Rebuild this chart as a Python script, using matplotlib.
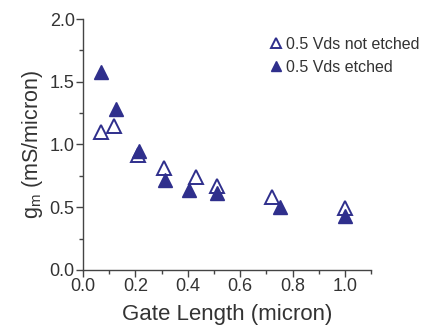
import matplotlib.pyplot as plt
from matplotlib.ticker import MultipleLocator

# gate length (micron) and transconductance (mS/micron)
gl_not_etched = [0.07, 0.12, 0.21, 0.31, 0.43, 0.51, 0.72, 1.0]
gm_not_etched = [1.10, 1.15, 0.92, 0.81, 0.74, 0.67, 0.58, 0.49]
gl_etched = [0.07, 0.125, 0.215, 0.315, 0.405, 0.51, 0.752, 1.0]
gm_etched = [1.58, 1.28, 0.95, 0.72, 0.64, 0.61, 0.50, 0.43]

plt.rcParams['font.family'] = ['Liberation Sans', 'DejaVu Sans']
navy = '#2f2f8c'
txt = '#333333'

fig = plt.figure(figsize=(4.3, 3.28), dpi=100)
ax = fig.add_axes([0.193, 0.177, 0.670, 0.765])

ax.plot(gl_not_etched, gm_not_etched, '^', ms=9.5, mfc='white', mec=navy, mew=1.4,
        linestyle='none', label='0.5 Vds not etched')
ax.plot(gl_etched, gm_etched, '^', ms=9.5, mfc=navy, mec=navy,
        linestyle='none', label='0.5 Vds etched')

ax.set_xlim(0, 1.1)
ax.set_ylim(0, 2.0)
ax.xaxis.set_major_locator(MultipleLocator(0.2))
ax.xaxis.set_minor_locator(MultipleLocator(0.1))
ax.yaxis.set_major_locator(MultipleLocator(0.5))
ax.yaxis.set_minor_locator(MultipleLocator(0.25))

for s in ['top', 'right']:
    ax.spines[s].set_visible(False)
for s in ['left', 'bottom']:
    ax.spines[s].set_color('#444444')
    ax.spines[s].set_linewidth(1.0)

ax.tick_params(which='major', direction='out', length=5, width=1, colors='#444444',
               labelsize=13, labelcolor=txt, pad=1)
ax.tick_params(which='minor', direction='out', length=3, width=1, colors='#444444')

ax.set_xlabel('Gate Length (micron)', fontsize=16, color=txt, labelpad=6)
ax.set_ylabel('g$_\\mathregular{m}$ (mS/micron)', fontsize=15.5, color=txt, labelpad=3)

ax.legend(loc='upper left', frameon=False, fontsize=11.5, handletextpad=0.2,
          handlelength=0.9, borderaxespad=0, borderpad=0, labelspacing=0.5,
          markerscale=0.8, bbox_to_anchor=(0.645, 0.93), labelcolor=txt)

plt.savefig('out.png', dpi=100)
